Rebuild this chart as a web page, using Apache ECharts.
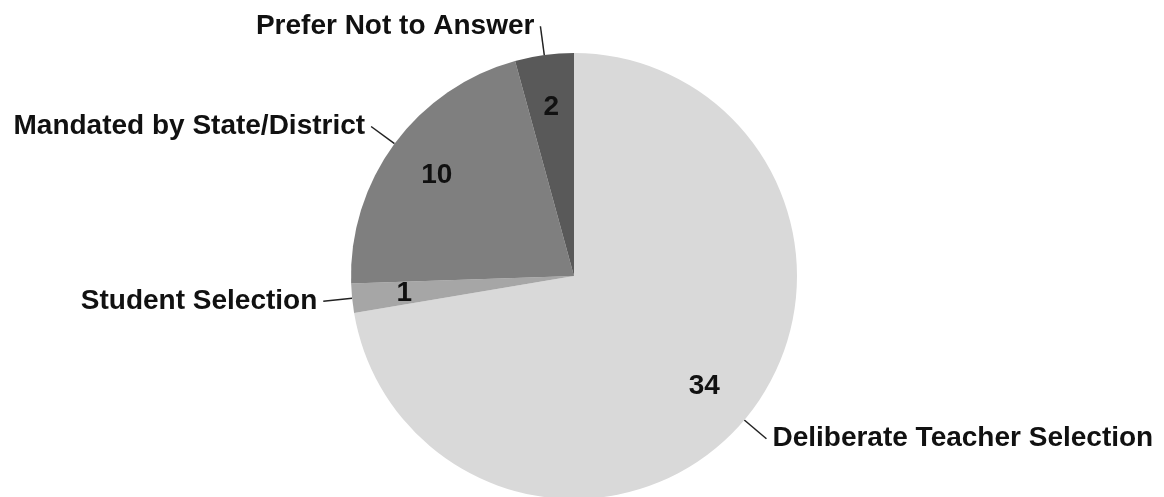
<!DOCTYPE html>
<html>
<head>
<meta charset="utf-8">
<script src="https://cdn.jsdelivr.net/npm/echarts@6/dist/echarts.min.js"></script>
<style>
html,body{margin:0;padding:0;background:#fff;}
#chart{width:1164px;height:497px;}
</style>
</head>
<body>
<div id="chart"></div>
<script>
const categories = ['Deliberate Teacher Selection', 'Student Selection', 'Mandated by State/District', 'Prefer Not to Answer'];
const values = [34, 1, 10, 2];
const colors = ['#d9d9d9', '#a6a6a6', '#7f7f7f', '#595959'];

const chart = echarts.init(document.getElementById('chart'));
const data = categories.map((c, i) => ({ name: c, value: values[i], itemStyle: { color: colors[i] } }));
const fontFamily = '"Liberation Sans", Arial, sans-serif';

chart.setOption({
  animation: false,
  backgroundColor: '#ffffff',
  series: [
    {
      type: 'pie',
      center: [574, 276],
      radius: [0, 223],
      startAngle: 90,
      clockwise: true,
      avoidLabelOverlap: false,
      data: data,
      itemStyle: { borderWidth: 0 },
      label: {
        show: true,
        position: 'outside',
        formatter: '{b}',
        color: '#111',
        fontSize: 28,
        fontWeight: 'bold',
        fontFamily: fontFamily,
        distanceToLabelLine: 6
      },
      labelLine: {
        show: true,
        length: 29,
        length2: 0,
        lineStyle: { color: '#222', width: 1.5 }
      },
      emphasis: { disabled: true }
    },
    {
      type: 'pie',
      center: [574, 276],
      radius: [112, 223],
      startAngle: 90,
      clockwise: true,
      silent: true,
      data: data.map(d => ({ name: d.name, value: d.value })),
      itemStyle: { color: 'rgba(0,0,0,0)', borderWidth: 0 },
      label: {
        show: true,
        position: 'inside',
        formatter: '{c}',
        color: '#111',
        fontSize: 28,
        fontWeight: 'bold',
        fontFamily: fontFamily
      },
      labelLine: { show: false },
      emphasis: { disabled: true }
    }
  ]
});
</script>
</body>
</html>
